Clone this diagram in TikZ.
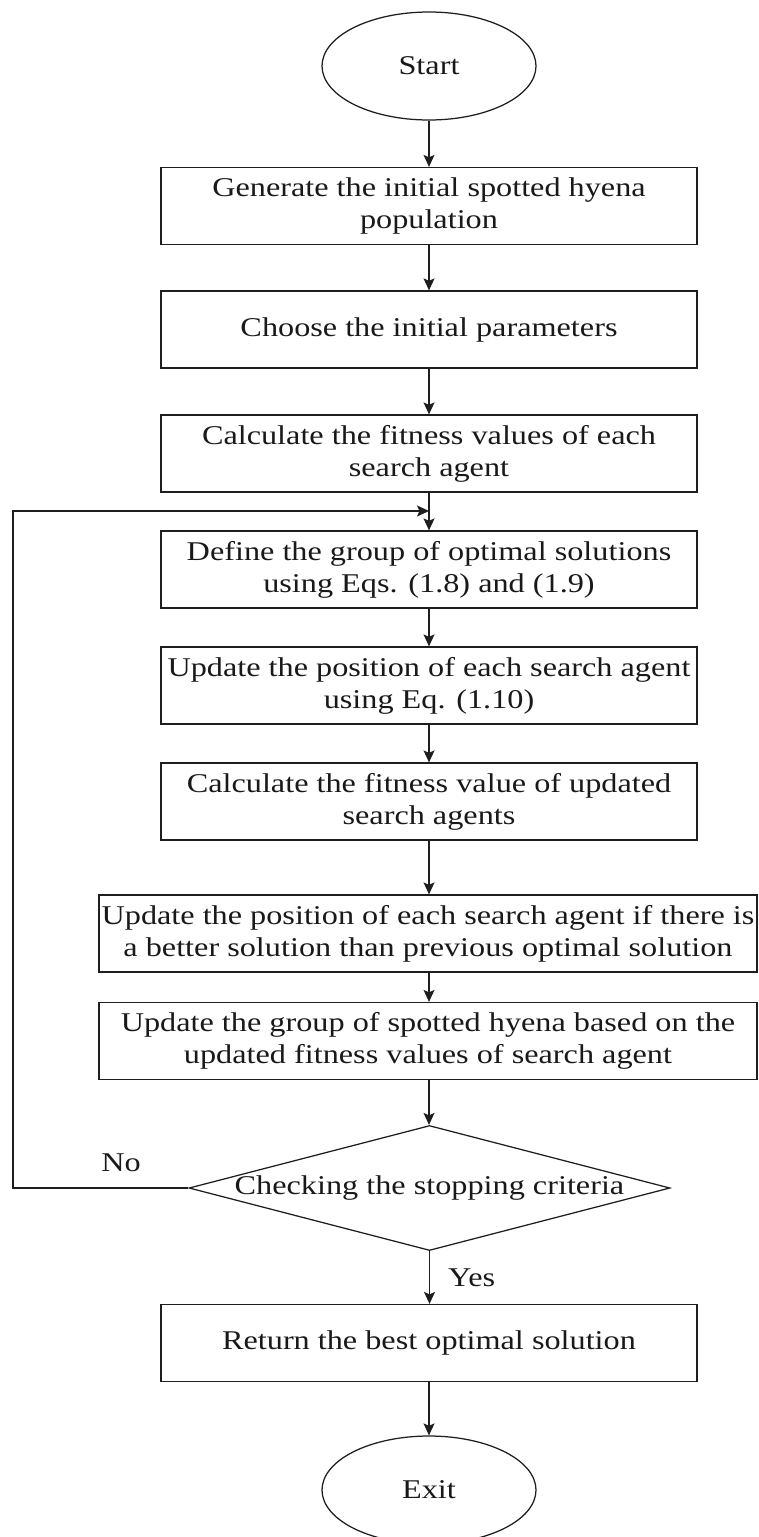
\documentclass[tikz,border=0pt]{standalone}
\usepackage{fontspec}
\setmainfont{Liberation Serif}[FakeStretch=1.19]
\usetikzlibrary{shapes.geometric,arrows.meta}
\definecolor{inkline}{RGB}{30,30,30}
\definecolor{inktext}{RGB}{25,25,25}
\tikzset{
  every node/.style={font=\fontsize{27.1}{32}\selectfont, text=inktext},
  box/.style={draw=inkline, line width=1.25pt, rectangle, inner sep=0pt,
    minimum width=536pt, minimum height=77pt, align=center},
  widebox/.style={box, minimum width=658pt},
  term/.style={draw=inkline, line width=1.25pt, ellipse, inner sep=0pt,
    minimum width=214pt, minimum height=108pt},
  decision/.style={draw=inkline, line width=1.25pt, diamond, aspect=3.85,
    inner sep=0pt, minimum width=481pt, minimum height=125pt},
  flow/.style={draw=inkline, line width=1.25pt,
    -{Stealth[length=12pt,width=11pt,inset=2.5pt]}},
  lbl/.style={inner sep=0pt}
}
\begin{document}
\begin{tikzpicture}[x=1pt,y=-1pt]
\useasboundingbox[fill=white] (0,0) rectangle (758,1537);

% process steps
\node[term] (start) at (429,66) {Start};
\node[box] (gen) at (429,206) {Generate the initial spotted hyena\\population};
\node[box] (param) at (429,329.5) {Choose the initial parameters};
\node[box] (fit) at (429,453.5) {Calculate the fitness values of each\\search agent};
\node[box] (group) at (429,569.5) {Define the group of optimal solutions\\using Eqs. (1.8) and (1.9)};
\node[box] (pos) at (429,685.5) {Update the position of each search agent\\using Eq. (1.10)};
\node[box] (refit) at (429,801.5) {Calculate the fitness value of updated\\search agents};
\node[widebox] (better) at (428,933.5) {Update the position of each search agent if there is\\a better solution than previous optimal solution};
\node[widebox] (regroup) at (428,1041) {Update the group of spotted hyena based on the\\updated fitness values of search agent};
\node[decision] (check) at (429.5,1188) {\makebox[300pt]{Checking the stopping criteria}};
\node[box] (best) at (429,1343) {Return the best optimal solution};
\node[term] (exit) at (429,1490) {Exit};

% straight connectors
\draw[flow] (start) -- (gen);
\draw[flow] (gen) -- (param);
\draw[flow] (param) -- (fit);
\draw[flow] (fit) -- (group);
\draw[flow] (group) -- (pos);
\draw[flow] (pos) -- (refit);
\draw[flow] (refit.south) -- (refit.south |- better.north);
\draw[flow] (refit.south |- better.south) -- (refit.south |- regroup.north);
\draw[flow] (refit.south |- regroup.south) -- (refit.south |- check.north);
\draw[flow] (check.south) -- (check.south |- best.north);
\draw[flow] (best) -- (exit);

% loop back when the criteria are not met
\coordinate (loopbottom) at (13,1188);
\coordinate (looptop) at (13,511);
\coordinate (merge) at (429,511);
\draw[flow] (check.west) -- (loopbottom) -- (looptop) -- (merge);

% branch labels
\node[lbl] (no) at (121,1163) {No};
\node[lbl, anchor=west] (yes) at (448,1278) {Yes};
\end{tikzpicture}
\end{document}
